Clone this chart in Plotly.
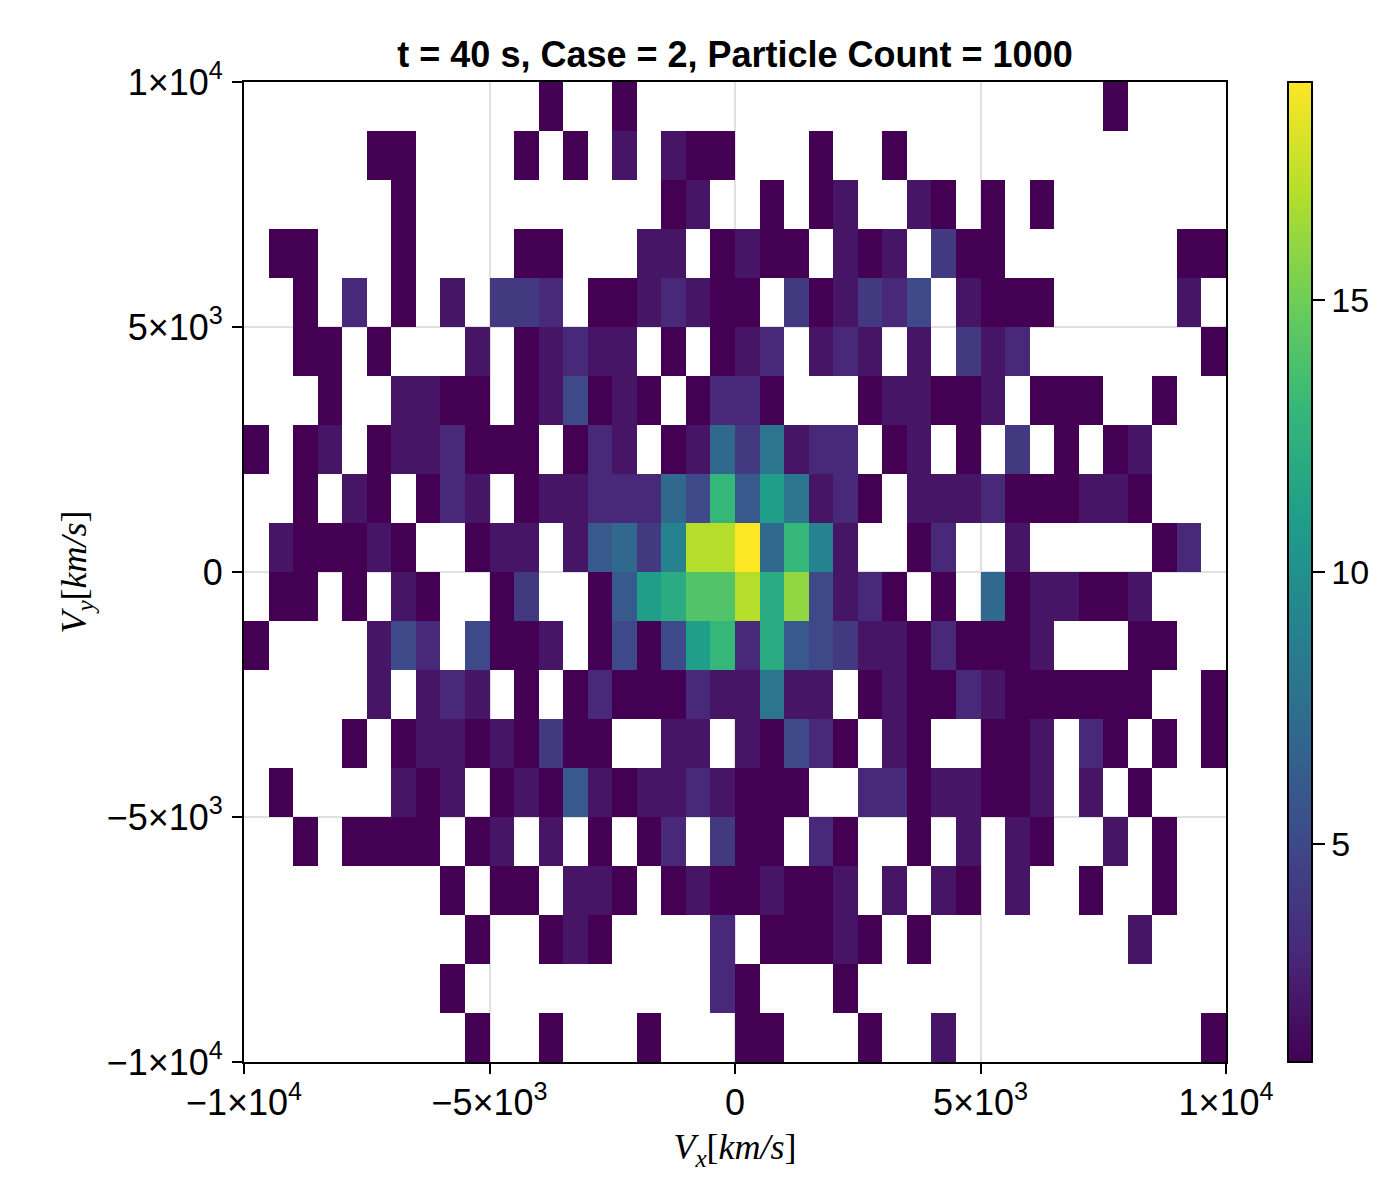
import numpy as np
import plotly.graph_objects as go

# Histogram counts, listed from the top row to the bottom row (0 = empty cell)
counts_top_down = [
    [0,0,0,0,0,0,0,0,0,0, 0,0,1,0,0,1,0,0,0,0, 0,0,0,0,0,0,0,0,0,0, 0,0,0,0,0,1,0,0,0,0],
    [0,0,0,0,0,1,1,0,0,0, 0,1,0,1,0,2,0,2,1,1, 0,0,0,1,0,0,1,0,0,0, 0,0,0,0,0,0,0,0,0,0],
    [0,0,0,0,0,0,1,0,0,0, 0,0,0,0,0,0,0,1,2,0, 0,1,0,1,2,0,0,2,1,0, 1,0,1,0,0,0,0,0,0,0],
    [0,1,1,0,0,0,1,0,0,0, 0,1,1,0,0,0,2,2,0,1, 2,1,1,0,2,1,2,0,4,1, 1,0,0,0,0,0,0,0,1,1],
    [0,0,1,0,3,0,1,0,2,0, 4,4,3,0,1,1,2,3,2,1, 1,0,4,1,2,4,3,5,0,2, 1,1,1,0,0,0,0,0,2,0],
    [0,0,1,1,0,1,0,0,0,2, 0,1,2,3,2,2,0,1,0,1, 2,3,0,2,3,2,0,2,0,4, 2,3,0,0,0,0,0,0,0,1],
    [0,0,0,1,0,0,2,2,1,1, 0,1,2,5,1,2,1,0,1,3, 3,1,0,0,0,1,2,2,1,1, 2,0,1,1,1,0,0,1,0,0],
    [1,0,1,2,0,1,2,2,3,1, 1,1,0,1,3,2,0,1,2,7, 4,8,2,3,3,0,1,2,0,1, 0,4,0,1,0,1,2,0,0,0],
    [0,0,1,0,2,1,0,1,3,2, 0,1,2,2,3,3,3,7,5,13, 6,11,8,2,3,1,0,2,2,2, 3,1,1,1,2,2,1,0,0,0],
    [0,2,1,1,1,2,1,0,0,1, 2,2,0,2,6,7,4,9,17,17, 19,7,13,9,2,0,0,1,3,0, 0,2,0,0,0,0,0,1,3,0],
    [0,1,1,0,1,0,2,1,0,0, 1,4,0,0,1,6,11,12,14,14, 17,12,16,5,2,3,1,0,1,0, 7,1,2,2,1,1,2,0,0,0],
    [1,0,0,0,0,2,5,3,0,5, 1,1,2,0,1,5,1,5,11,13, 3,12,6,5,4,2,2,1,3,1, 1,1,2,0,0,0,1,1,0,0],
    [0,0,0,0,0,2,0,2,3,2, 0,1,0,1,3,1,1,1,3,2, 2,8,2,2,0,1,2,1,1,3, 2,1,1,1,1,1,1,0,0,1],
    [0,0,0,0,1,0,1,2,2,1, 2,1,4,1,1,0,0,2,2,0, 2,1,5,3,1,0,2,1,0,0, 1,1,2,0,3,1,0,1,0,1],
    [0,1,0,0,0,0,2,1,2,0, 1,2,1,6,2,1,2,2,3,2, 1,1,1,0,0,3,3,1,2,2, 1,1,2,0,2,0,1,0,0,0],
    [0,0,1,0,1,1,1,1,0,1, 2,0,2,0,1,0,1,3,0,4, 1,1,0,3,1,0,0,1,0,2, 0,2,1,0,0,2,0,1,0,0],
    [0,0,0,0,0,0,0,0,1,0, 1,1,0,2,2,1,0,1,2,1, 1,2,1,1,2,0,2,0,2,1, 0,2,0,0,1,0,0,1,0,0],
    [0,0,0,0,0,0,0,0,0,1, 0,0,1,2,1,0,0,0,0,3, 0,1,1,1,2,1,0,1,0,0, 0,0,0,0,0,0,2,0,0,0],
    [0,0,0,0,0,0,0,0,1,0, 0,0,0,0,0,0,0,0,0,3, 1,0,0,0,1,0,0,0,0,0, 0,0,0,0,0,0,0,0,0,0],
    [0,0,0,0,0,0,0,0,0,1, 0,0,1,0,0,0,1,0,0,0, 1,1,0,0,0,1,0,0,2,0, 0,0,0,0,0,0,0,0,0,1],
]
x_edges = np.linspace(-1e4, 1e4, 41)
y_edges = np.linspace(-1e4, 1e4, 21)
tick_values = [-1e4, -5e3, 0, 5e3, 1e4]
tick_labels = ["\u22121\u00d710<sup>4</sup>", "\u22125\u00d710<sup>3</sup>", "0",
               "5\u00d710<sup>3</sup>", "1\u00d710<sup>4</sup>"]
colorbar_ticks = [5, 10, 15]
title_text = "<b>t = 40 s, Case = 2, Particle Count = 1000</b>"
x_title = "<i>V<sub>x</sub></i>[<i>km/s</i>]"
y_title = "<i>V<sub>y</sub></i>[<i>km/s</i>]"

z = np.array(counts_top_down, dtype=float)[::-1]
z[z == 0] = np.nan

fig = go.Figure(go.Heatmap(
    x=x_edges, y=y_edges, z=z, colorscale="Viridis", zmin=1, zmax=19,
    hoverongaps=False,
    colorbar=dict(
        x=1.0631, xanchor="left", xpad=0, ypad=0, y=0.5, yanchor="middle",
        len=1, lenmode="fraction", thickness=24, thicknessmode="pixels",
        outlinecolor="black", outlinewidth=2,
        tickvals=colorbar_ticks, ticks="outside", ticklen=12, tickwidth=2,
        tickcolor="black", tickfont=dict(family="Liberation Sans", size=34, color="black"),
    ),
))

axis_style = dict(
    range=[-1e4, 1e4], tickvals=tick_values, ticktext=tick_labels,
    ticks="outside", ticklen=10, tickwidth=2, tickcolor="black",
    showline=True, linecolor="black", linewidth=2, mirror=True,
    showgrid=True, gridcolor="#e0e0e0", gridwidth=2, zeroline=False,
    tickfont=dict(family="Liberation Sans", size=36, color="black"),
)
fig.update_layout(
    width=1384, height=1184,
    margin=dict(l=236, r=166, t=74, b=130),
    paper_bgcolor="white", plot_bgcolor="white",
    title=dict(text=title_text, x=0.5253, xanchor="center", y=0.9605, yanchor="middle",
               font=dict(family="Liberation Sans", size=36, color="black")),
    xaxis=dict(axis_style, ticklabelstandoff=-2, title=dict(text=x_title, standoff=12,
               font=dict(family="Liberation Serif", size=36, color="black"))),
    yaxis=dict(axis_style, ticklabelstandoff=2, title=dict(text=y_title, standoff=9,
               font=dict(family="Liberation Serif", size=36, color="black"))),
)
fig.write_html("out.html")
